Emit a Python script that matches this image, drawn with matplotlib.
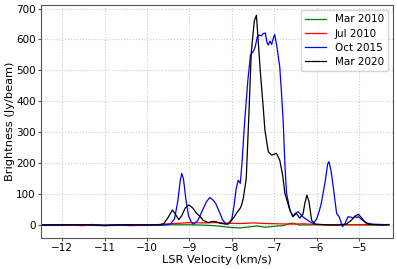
import numpy as np
import matplotlib
matplotlib.use("Agg")
import matplotlib.pyplot as plt

# Oct 2015 (blue)
v_oct15 = [-12.5, -11.5, -11.0, -10.5, -10.0, -9.6, -9.45, -9.35, -9.27, -9.22, -9.18, -9.14, -9.08, -9.02,
           -8.95, -8.90, -8.80, -8.70, -8.60, -8.52, -8.45, -8.38, -8.30, -8.22, -8.15, -8.08, -8.00, -7.95,
           -7.90, -7.85, -7.80, -7.76, -7.70, -7.62, -7.56, -7.50, -7.45, -7.40, -7.36, -7.30, -7.26, -7.21,
           -7.17, -7.14, -7.10, -7.06, -7.02, -6.99, -6.94, -6.87, -6.83, -6.79, -6.75, -6.71, -6.63, -6.56,
           -6.50, -6.44, -6.38, -6.32, -6.28, -6.16, -6.08, -6.00, -5.94, -5.89, -5.80, -5.74, -5.71, -5.66,
           -5.61, -5.56, -5.53, -5.47, -5.39, -5.34, -5.26, -5.18, -5.14, -5.10, -5.06, -5.02, -4.94, -4.83,
           -4.70, -4.50, -4.30]
b_oct15 = [0, 1, -1, 0, 1, 0, 3, 20, 80, 140, 167, 150, 80, 30,
           8, 3, 15, 45, 75, 89, 82, 70, 45, 18, 5, 3, 20, 60,
           115, 145, 135, 200, 330, 470, 550, 560, 575, 608, 614, 612, 619, 621,
           590, 582, 595, 584, 605, 616, 580, 511, 430, 339, 200, 103, 48, 29,
           38, 43, 35, 26, 22, 11, 5, 20, 45, 71, 140, 198, 205, 175,
           124, 70, 38, 27, -5, 3, 27, 25, 22, 29, 24, 27, 18, 7,
           3, 2, 1]

# Mar 2020 (black)
v_mar20 = [-12.5, -11.5, -11.0, -10.5, -10.0, -9.70, -9.60, -9.50, -9.40, -9.33, -9.25, -9.18, -9.10, -9.01,
           -8.92, -8.83, -8.75, -8.68, -8.56, -8.44, -8.35, -8.28, -8.13, -8.05, -7.95, -7.89, -7.80, -7.77,
           -7.73, -7.66, -7.60, -7.54, -7.47, -7.42, -7.39, -7.33, -7.26, -7.22, -7.14, -7.06, -6.95, -6.87,
           -6.80, -6.75, -6.63, -6.56, -6.48, -6.40, -6.32, -6.28, -6.23, -6.18, -6.12, -6.04, -5.80, -5.50,
           -5.30, -5.18, -5.10, -5.02, -4.95, -4.87, -4.79, -4.50, -4.30]
b_mar20 = [0, 1, 0, 1, 0, 1, 5, 25, 49, 35, 18, 30, 55, 65,
           55, 38, 28, 16, 8, 12, 10, 6, 3, 8, 25, 38, 55, 65,
           86, 150, 350, 560, 660, 678, 620, 500, 381, 307, 237, 226, 232, 210,
           160, 103, 48, 27, 38, 22, 36, 70, 97, 75, 16, 3, 1, 0,
           3, 16, 28, 35, 25, 11, 3, 0, 1]

# Jul 2010 (red)
v_jul10 = [-12.5, -12.0, -11.5, -11.3, -11.0, -10.7, -10.4, -10.0, -9.7, -9.5, -9.2, -9.0, -8.7, -8.4,
           -8.1, -7.8, -7.5, -7.2, -6.9, -6.6, -6.3, -6.0, -5.7, -5.4, -5.1, -4.8, -4.5, -4.3]
b_jul10 = [0, 1, -2, 2, -2, 1, -2, 0, 2, 4, 6, 8, 7, 8,
           6, 5, 7, 5, 4, 3, 4, 2, 1, 2, 1, 2, 1, 2]

# Mar 2010 (green)
v_mar10 = [-12.5, -12.0, -11.5, -11.0, -10.5, -10.0, -9.5, -9.0, -8.7, -8.4, -8.2, -8.0, -7.8, -7.6,
           -7.4, -7.2, -7.0, -6.8, -6.65, -6.55, -6.4, -6.0, -5.6, -5.2, -4.8, -4.3]
b_mar10 = [0, -1, 0, -2, 0, 0, 1, 1, 0, -2, -5, -8, -9, -6,
           -3, -7, -4, -2, 5, 6, 0, 1, 0, 1, 0, 1]

plt.rcParams['font.size'] = 7.5

fig = plt.figure(figsize=(3.97, 2.69), dpi=100)
ax = fig.add_axes([0.103, 0.115, 0.887, 0.866])

ax.plot(v_mar10, b_mar10, color='green', lw=0.9, label='Mar 2010')
ax.plot(v_jul10, b_jul10, color='red', lw=0.9, label='Jul 2010')
ax.plot(v_oct15, b_oct15, color='blue', lw=0.9, label='Oct 2015')
ax.plot(v_mar20, b_mar20, color='black', lw=0.9, label='Mar 2020')

ax.set_xlim(-12.5, -4.2)
ax.set_ylim(-42, 711)
ax.set_xticks([-12, -11, -10, -9, -8, -7, -6, -5])
ax.set_yticks(np.arange(0, 701, 100))
ax.tick_params(length=2.2, pad=1.5, labelsize=7.5, color='#555555')
ax.grid(True, linestyle=':', color='#cccccc', lw=0.8)
for s in ax.spines.values():
    s.set_color('#555555')
ax.set_xlabel('LSR Velocity (km/s)', fontsize=8.2, labelpad=1.5)
ax.set_ylabel('Brightness (Jy/beam)', fontsize=8.2, labelpad=1)
ax.legend(loc='upper right', fontsize=7.5, labelspacing=0.4)

fig.savefig('out.png', dpi=100)
